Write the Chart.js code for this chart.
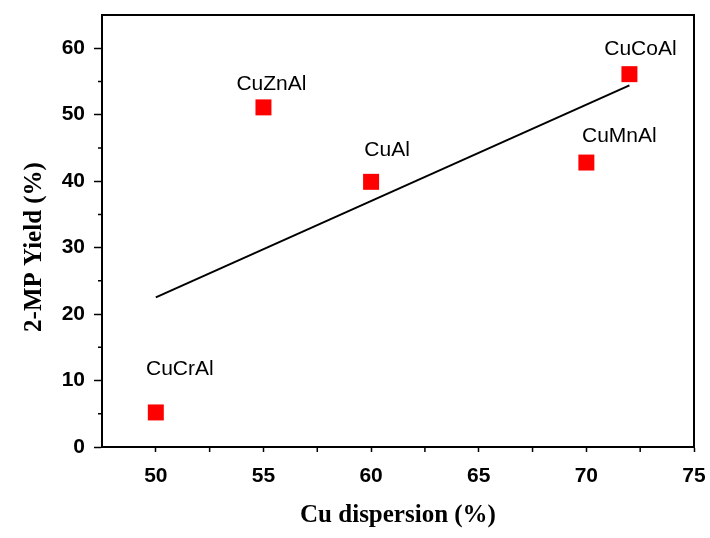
<!DOCTYPE html>
<html>
<head>
<meta charset="utf-8">
<script src="https://cdn.jsdelivr.net/npm/chart.js@4/dist/chart.umd.min.js"></script>
<style>
  html, body { margin: 0; padding: 0; background: #fff; }
  #wrap { width: 710px; height: 538px; }
</style>
</head>
<body>
<div id="wrap"><canvas id="yield_chart"></canvas></div>
<script>
// catalysts and read-off values
var catalysts = ["CuCrAl", "CuZnAl", "CuAl", "CuMnAl", "CuCoAl"];
var cuDispersion = [50, 55, 60, 70, 72];
var mpYield = [5.2, 51.1, 39.9, 42.8, 56.1];
// fitted line end points
var fitX = [50, 72];
var fitY = [22.5, 54.4];
// axis ticks
var xTicks = [50, 55, 60, 65, 70, 75];
var yTicks = [0, 10, 20, 30, 40, 50, 60];
var xMinor = [52.5, 57.5, 62.5, 67.5, 72.5];
var yMinor = [5, 15, 25, 35, 45, 55];
var yTitle = "2-MP Yield (%)";

// label offsets (px) from each marker
var labelOffsets = [[24, -43], [8, -23], [16, -32], [33, -26], [11, -25]];

var points = cuDispersion.map(function (x, i) {
  return { x: x, y: mpYield[i] };
});
var fitPoints = fitX.map(function (x, i) {
  return { x: x, y: fitY[i] };
});

var extras = {
  id: "extras",
  afterDraw: function (chart) {
    var c = chart.ctx;
    var a = chart.chartArea;
    var xs = chart.scales.x, ys = chart.scales.y;
    c.save();
    c.strokeStyle = "#000";
    c.lineWidth = 2;
    c.strokeRect(a.left, a.top, a.right - a.left, a.bottom - a.top);
    // minor ticks
    c.lineWidth = 1.5;
    c.beginPath();
    xMinor.forEach(function (v) {
      var px = xs.getPixelForValue(v);
      c.moveTo(px, a.bottom);
      c.lineTo(px, a.bottom + 5);
    });
    yMinor.forEach(function (v) {
      var py = ys.getPixelForValue(v);
      c.moveTo(a.left, py);
      c.lineTo(a.left - 4, py);
    });
    c.stroke();
    // point labels
    var meta = chart.getDatasetMeta(0);
    c.fillStyle = "#000";
    c.font = "21px 'Liberation Sans', Arial, sans-serif";
    c.textAlign = "center";
    c.textBaseline = "middle";
    meta.data.forEach(function (el, i) {
      c.fillText(catalysts[i], el.x + labelOffsets[i][0], el.y + labelOffsets[i][1]);
    });
    // y axis title, sits a bit below the plot centre in the original
    c.translate(35, 247);
    c.rotate(-Math.PI / 2);
    c.font = "bold 25px 'Liberation Serif', 'Times New Roman', serif";
    c.fillText(yTitle, 0, 0);
    c.restore();
  }
};

var ctx = document.getElementById("yield_chart").getContext("2d");
var yield_chart = new Chart(ctx, {
  type: "scatter",
  data: {
    datasets: [
      {
        label: "2-MP Yield",
        data: points,
        pointStyle: "rect",
        pointRadius: 11.3,
        pointHoverRadius: 11.3,
        backgroundColor: "#ff0000",
        borderColor: "#ff0000",
        borderWidth: 0,
      },
      {
        type: "line",
        label: "Fit",
        data: fitPoints,
        borderColor: "#000",
        borderWidth: 2,
        pointRadius: 0,
        fill: false,
      },
    ],
  },
  options: {
    responsive: true,
    maintainAspectRatio: false,
    animation: false,
    layout: {
      padding: { left: 0, right: 16, top: 15, bottom: 0 },
    },
    plugins: {
      legend: { display: false },
      tooltip: { enabled: false },
    },
    scales: {
      x: {
        type: "linear",
        min: 47.5,
        max: 75,
        afterBuildTicks: function (scale) {
          scale.ticks = xTicks.map(function (v) { return { value: v }; });
        },
        afterFit: function (scale) {
          scale.height = 91;
          scale.paddingLeft = 0;
          scale.paddingRight = 0;
        },
        grid: {
          drawOnChartArea: false,
          drawTicks: true,
          tickLength: 5,
          tickWidth: 1.5,
          tickColor: "#000",
        },
        border: { display: true, color: "#000", width: 2 },
        ticks: {
          color: "#000",
          padding: 12,
          maxRotation: 0,
          font: { family: "'Liberation Sans', Arial, sans-serif", size: 21, weight: "bold" },
        },
        title: {
          display: true,
          text: "Cu dispersion (%)",
          color: "#000",
          padding: { top: 0, bottom: 7 },
          font: { family: "'Liberation Serif', 'Times New Roman', serif", size: 25, weight: "bold" },
        },
      },
      y: {
        type: "linear",
        min: 0,
        max: 65,
        afterBuildTicks: function (scale) {
          scale.ticks = yTicks.map(function (v) { return { value: v }; });
        },
        afterFit: function (scale) {
          scale.width = 102;
          scale.paddingTop = 0;
          scale.paddingBottom = 0;
        },
        grid: {
          drawOnChartArea: false,
          drawTicks: true,
          tickLength: 8,
          tickWidth: 1.5,
          tickColor: "#000",
        },
        border: { display: true, color: "#000", width: 2 },
        ticks: {
          color: "#000",
          padding: 9,
          font: { family: "'Liberation Sans', Arial, sans-serif", size: 21, weight: "bold" },
        },
        title: { display: false },
      },
    },
  },
  plugins: [extras],
});
</script>
</body>
</html>
